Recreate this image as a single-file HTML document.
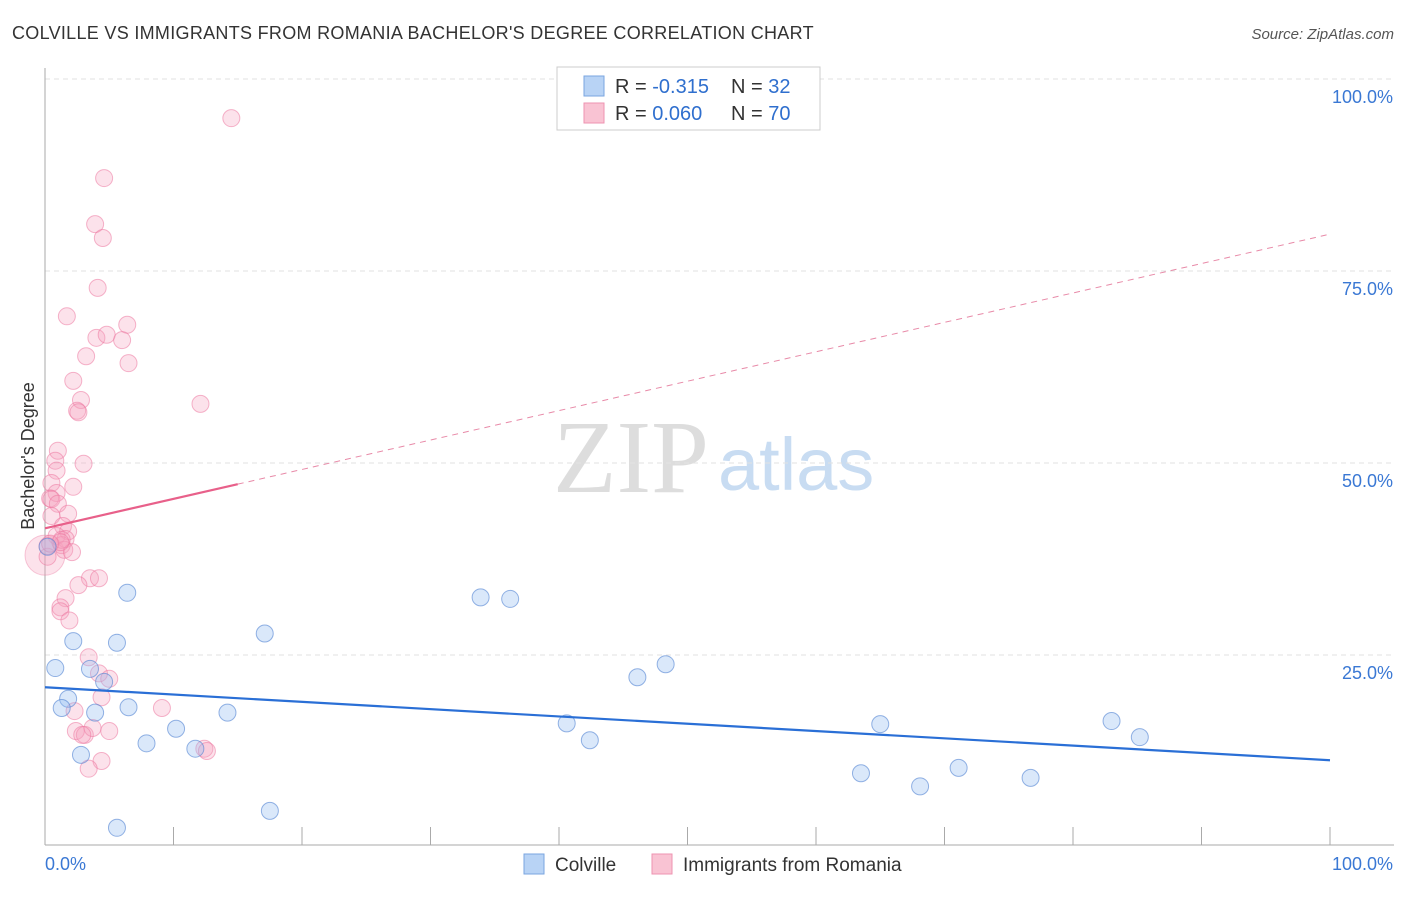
<!DOCTYPE html>
<html><head><meta charset="utf-8"><style>
body{margin:0;background:#fff;font-family:"Liberation Sans",sans-serif;}
</style></head><body>
<svg width="1406" height="892" xmlns="http://www.w3.org/2000/svg" font-family="Liberation Sans, sans-serif">
<text x="12" y="39" font-size="18" fill="#333" letter-spacing="0.3">COLVILLE VS IMMIGRANTS FROM ROMANIA BACHELOR'S DEGREE CORRELATION CHART</text>
<text x="1394" y="39" font-size="15" fill="#555" font-style="italic" text-anchor="end">Source: ZipAtlas.com</text>
<text x="553" y="492" font-size="104" fill="#ddd" font-family="Liberation Serif, serif">ZIP</text>
<text x="718" y="490" font-size="74" fill="#c8dcf2">atlas</text>
<g id="grid"></g>
<g id="axes"></g>
<g id="marks"></g>
<text transform="translate(34,456) rotate(-90)" font-size="18" fill="#333" text-anchor="middle">Bachelor's Degree</text>
<g>
<rect x="557" y="67" width="263" height="63" fill="#fff" stroke="#ccc"/>
<rect x="584" y="76" width="20" height="20" fill="#b8d3f5" stroke="#7aa6e0"/>
<rect x="584" y="103" width="20" height="20" fill="#f9c3d3" stroke="#ee93b0"/>
<text x="615" y="93" font-size="20" fill="#333">R = <tspan fill="#2f6fce">-0.315</tspan></text>
<text x="731" y="93" font-size="20" fill="#333">N = <tspan fill="#2f6fce">32</tspan></text>
<text x="615" y="120" font-size="20" fill="#333">R = <tspan fill="#2f6fce">0.060</tspan></text>
<text x="731" y="120" font-size="20" fill="#333">N = <tspan fill="#2f6fce">70</tspan></text>
</g>
<g>
<rect x="524" y="854" width="20" height="20" fill="#b8d3f5" stroke="#7aa6e0"/>
<text x="555" y="871" font-size="19" fill="#333">Colville</text>
<rect x="652" y="854" width="20" height="20" fill="#f9c3d3" stroke="#ee93b0"/>
<text x="683" y="871" font-size="19" fill="#333">Immigrants from Romania</text>
</g>
</svg>
<script>
const blueX=[0.2,0.8,2.2,6.4,5.6,1.8,1.3,3.5,4.6,3.9,6.5,2.8,7.9,10.2,11.7,14.2,17.1,5.6,17.5,33.9,36.2,40.6,42.4,46.1,48.3,65,63.5,68.1,71.1,76.7,83,85.2];
const blueY=[39.1,23.3,26.8,33.1,26.6,19.3,18.1,23.2,21.5,17.5,18.2,12,13.5,15.4,12.8,17.5,27.8,2.5,4.7,32.5,32.3,16.1,13.9,22.1,23.8,16,9.6,7.9,10.3,9,16.4,14.3];
const pinkX=[14.5,4.6,3.9,4.5,4.1,1.7,6.4,4,4.8,6,3.2,6.5,2.2,2.8,2.5,2.6,12.1,1,3,0.8,0.9,0.5,2.2,0.9,0.4,0.5,1,1.8,0.5,1.4,1.8,0.9,1.6,1.3,1.5,2.1,0.2,0.2,1.3,1.2,3.5,4.2,2.6,1.6,1.2,1.2,1.9,3.4,4.2,5,4.4,2.3,9.1,2.4,3.1,3.7,5,2.9,12.4,12.6,4.4,3.4,0.4];
const pinkY=[94.9,87.1,81.1,79.3,72.8,69.1,68,66.3,66.7,66,63.9,63,60.7,58.2,56.8,56.6,57.7,51.6,49.9,50.3,49,47.4,46.9,46.1,45.4,45.3,44.7,43.4,43.1,41.8,41.1,40.5,40.1,39.3,38.7,38.4,37.8,39.2,40,39.7,35,35,34.1,32.4,31.2,30.7,29.5,24.7,22.6,21.9,19.5,17.7,18.1,15.1,14.6,15.5,15.1,14.6,12.8,12.5,11.2,10.2,39.5];
const yTicks=[25,50,75,100];
const yTickLabels=["25.0%","50.0%","75.0%","100.0%"];
const xTicks=[0,10,20,30,40,50,60,70,80,90,100];
const blueTrend=[20.8,11.3];
const pinkTrend=[41.5,79.8];
const pinkSolidEnd=15;
const X0=45,X1=1330,Y0=847,Y1=79;
const sx=v=>X0+(X1-X0)*v/100, sy=v=>Y0-(Y0-Y1)*v/100;
const NS="http://www.w3.org/2000/svg";
function mk(p,t,a){const e=document.createElementNS(NS,t);for(const k in a)e.setAttribute(k,a[k]);document.getElementById(p).appendChild(e);return e;}
yTicks.forEach((v,i)=>{
 const l=mk('grid','line',{x1:X0,x2:1394,y1:sy(v),y2:sy(v),stroke:'#e2e2e2','stroke-dasharray':'5,4'});
 
 
 const t=mk('grid','text',{x:1393,y:sy(v)+24,'font-size':18,fill:'#3a78d4','text-anchor':'end'});
 t.textContent=yTickLabels[i];
 
 
});
const ax=mk('axes','line',{x1:X0,x2:X0,y1:68,y2:845,stroke:'#aaa'});


const bx=mk('axes','line',{x1:X0,x2:1394,y1:845,y2:845,stroke:'#aaa'});


xTicks.forEach(v=>{const t=mk('axes','line',{x1:sx(v),x2:sx(v),y1:827,y2:845,stroke:'#aaa'});
 
 });
[[0,'0.0%','start',45],[100,'100.0%','end',1393]].forEach(a=>{const t=mk('axes','text',{x:a[3],y:870,'font-size':18,fill:'#3a78d4','text-anchor':a[2]});t.textContent=a[1];
 
 });
const big=mk('marks','circle',{cx:sx(0),cy:sy(38),r:20,fill:'rgba(246,160,188,0.3)',stroke:'rgba(236,120,160,0.4)'});


pinkX.forEach((x,i)=>{const c=mk('marks','circle',{cx:sx(x),cy:sy(pinkY[i]),r:8.5,fill:'rgba(246,160,188,0.3)',stroke:'rgba(236,120,160,0.55)'});
 
 });
blueX.forEach((x,i)=>{const c=mk('marks','circle',{cx:sx(x),cy:sy(blueY[i]),r:8.5,fill:'rgba(150,190,240,0.35)',stroke:'rgba(80,130,210,0.6)'});
 
 });
const bl=mk('marks','line',{x1:sx(0),y1:sy(blueTrend[0]),x2:sx(100),y2:sy(blueTrend[1]),stroke:'#2a6fd6','stroke-width':2.2});


const pm=pinkTrend[0]+(pinkTrend[1]-pinkTrend[0])*pinkSolidEnd/100;
const pd=mk('marks','line',{x1:sx(pinkSolidEnd),y1:sy(pm),x2:sx(100),y2:sy(pinkTrend[1]),stroke:'#e88aa8','stroke-width':1,'stroke-dasharray':'6,5'});


const ps=mk('marks','line',{x1:sx(0),y1:sy(pinkTrend[0]),x2:sx(pinkSolidEnd),y2:sy(pm),stroke:'#e8608a','stroke-width':2.2});


</script>
</body></html>
